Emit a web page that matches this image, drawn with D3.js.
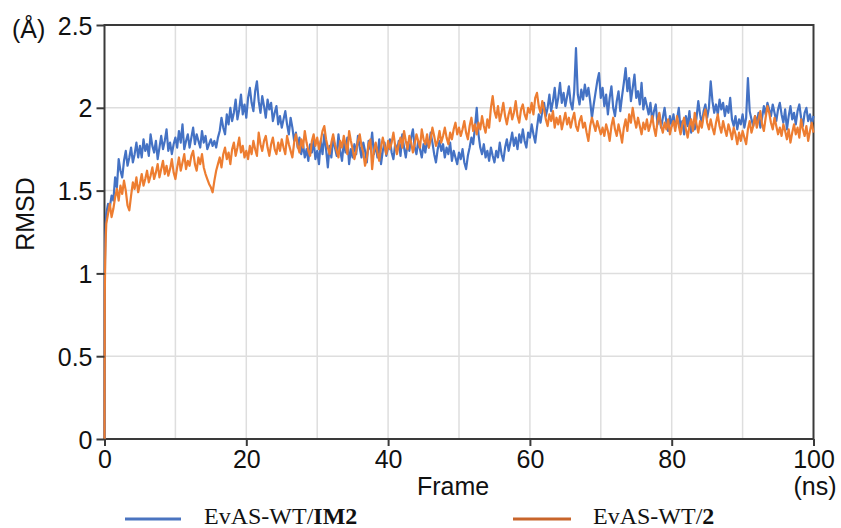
<!DOCTYPE html>
<html>
<head>
<meta charset="utf-8">
<script src="https://cdn.jsdelivr.net/npm/d3@7"></script>
<style>
  html, body { margin: 0; padding: 0; background: #fff; }
  svg { display: block; }
</style>
</head>
<body>
<svg id="chart" width="841" height="528"></svg>
<script>
// RMSD traces (Å) for two MD runs, 0–100 ns.
// Start-up segment sampled finely, then one sample every 0.25 ns.
const rampTime = [0, 0.04, 0.1, 0.18];
const rampIM2 = [0, 0.95, 1.18, 1.30];
const ramp2 = [0, 0.88, 1.08, 1.22];

const rmsdIM2 = [
  1.36, 1.42, 1.40, 1.47, 1.44, 1.58, 1.52, 1.69, 1.62, 1.58, 1.68, 1.74, 1.65, 1.70, 1.76, 1.67, 1.72, 1.79, 1.70, 1.77,
  1.70, 1.81, 1.74, 1.78, 1.71, 1.84, 1.77, 1.73, 1.80, 1.69, 1.76, 1.83, 1.75, 1.80, 1.87, 1.74, 1.79, 1.72, 1.78, 1.82,
  1.76, 1.86, 1.79, 1.90, 1.75, 1.80, 1.84, 1.76, 1.82, 1.88, 1.78, 1.84, 1.80, 1.76, 1.86, 1.79, 1.83, 1.75, 1.78, 1.81,
  1.77, 1.80, 1.76, 1.82, 1.86, 1.94, 1.88, 1.84, 1.96, 1.90, 2.00, 1.92, 1.97, 2.05, 1.93, 1.99, 2.08, 1.96, 2.02, 1.94,
  2.06, 2.12, 2.03, 1.98, 2.10, 2.16, 2.04, 1.97, 2.07, 2.01, 1.94, 2.05, 1.99, 2.03, 1.92, 1.97, 2.01, 1.90, 1.95, 1.88,
  1.93, 1.98, 1.90, 1.84, 1.94, 1.88, 1.80, 1.85, 1.76, 1.82, 1.72, 1.78, 1.70, 1.75, 1.68, 1.78, 1.73, 1.80, 1.69, 1.74,
  1.66, 1.80, 1.72, 1.84, 1.75, 1.64, 1.77, 1.70, 1.82, 1.76, 1.71, 1.84, 1.74, 1.68, 1.79, 1.73, 1.82, 1.66, 1.75, 1.70,
  1.78, 1.72, 1.83, 1.76, 1.70, 1.79, 1.74, 1.67, 1.80, 1.75, 1.85, 1.72, 1.78, 1.70, 1.81, 1.66, 1.74, 1.79, 1.71, 1.76,
  1.81, 1.73, 1.69, 1.78, 1.74, 1.80, 1.71, 1.84, 1.76, 1.70, 1.79, 1.74, 1.82, 1.87, 1.76, 1.72, 1.80, 1.75, 1.70, 1.78,
  1.73, 1.81, 1.76, 1.85, 1.79, 1.72, 1.67, 1.75, 1.80, 1.74, 1.78, 1.70, 1.76, 1.72, 1.79, 1.68, 1.74, 1.70, 1.66, 1.73,
  1.69, 1.75, 1.67, 1.63, 1.71, 1.76, 1.82, 1.78, 1.88, 2.00, 1.84, 1.76, 1.72, 1.78, 1.70, 1.74, 1.68, 1.76, 1.71, 1.67,
  1.74, 1.70, 1.79, 1.72, 1.68, 1.76, 1.81, 1.74, 1.79, 1.85, 1.77, 1.82, 1.75, 1.84, 1.79, 1.87, 1.80, 1.76, 1.85, 1.82,
  1.90, 1.84, 1.79, 1.88, 1.96, 1.91, 1.98, 2.03, 1.95, 2.00, 2.08, 1.98, 2.04, 2.12, 2.00, 2.06, 2.15, 2.03, 2.09, 2.01,
  2.07, 2.13, 2.03, 1.99, 2.10, 2.36, 2.08, 2.02, 2.11, 2.05, 2.14, 2.07, 2.12, 2.04, 1.94, 2.02, 2.09, 2.16, 2.21, 2.06,
  2.12, 2.01, 2.08, 1.96, 2.06, 2.13, 2.00, 1.95, 2.04, 2.10, 1.98, 2.07, 2.15, 2.24, 2.10, 2.18, 2.04, 2.12, 2.20, 2.06,
  2.10, 2.02, 2.15, 1.99, 2.06, 2.01, 1.96, 2.03, 1.92, 1.98, 2.02, 1.90, 1.96, 1.88, 1.94, 2.00, 1.91, 1.86, 1.95, 1.89,
  1.96, 1.88, 1.93, 2.00, 1.87, 1.92, 1.84, 1.95, 1.89, 1.98, 1.85, 1.91, 1.87, 1.94, 2.04, 1.96, 1.90, 1.98, 2.02, 1.94,
  2.00, 2.16, 2.04, 1.97, 2.02, 1.96, 2.05, 1.99, 2.03, 1.95, 2.01, 1.97, 2.06, 1.93, 1.89, 1.95, 1.87, 1.93, 1.90, 1.96,
  1.88, 1.94, 2.18, 1.98, 1.93, 1.89, 1.95, 1.91, 1.97, 1.88, 1.94, 2.01, 1.96, 2.03, 1.99, 1.95, 2.02, 1.97, 1.92, 1.99,
  2.03, 1.96, 1.91, 1.99, 1.87, 1.95, 2.01, 1.93, 1.97, 1.90, 1.98, 2.02, 1.94, 1.89, 1.97, 2.00, 1.92, 1.96, 1.90, 1.95
];

const rmsd2 = [
  1.30, 1.36, 1.42, 1.34, 1.39, 1.46, 1.51, 1.44, 1.53, 1.48, 1.56, 1.50, 1.41, 1.38, 1.47, 1.55, 1.51, 1.58, 1.49, 1.54,
  1.60, 1.53, 1.57, 1.62, 1.55, 1.59, 1.64, 1.57, 1.61, 1.66, 1.58, 1.63, 1.68, 1.60, 1.65, 1.59, 1.63, 1.69, 1.61, 1.57,
  1.64, 1.70, 1.62, 1.67, 1.72, 1.63, 1.68, 1.65, 1.71, 1.74, 1.66, 1.62, 1.70, 1.66, 1.72, 1.64, 1.60, 1.57, 1.54, 1.52,
  1.49, 1.56, 1.62, 1.66, 1.70, 1.64, 1.72, 1.76, 1.69, 1.73, 1.66, 1.75, 1.79, 1.71, 1.76, 1.82, 1.73, 1.77, 1.70, 1.74,
  1.69, 1.77, 1.72, 1.80, 1.75, 1.71, 1.85, 1.78, 1.74, 1.80, 1.83, 1.76, 1.71, 1.78, 1.82, 1.75, 1.72, 1.79, 1.74, 1.81,
  1.76, 1.72, 1.83, 1.78, 1.74, 1.70, 1.79, 1.84, 1.77, 1.73, 1.81, 1.76, 1.86, 1.79, 1.74, 1.71, 1.80, 1.84, 1.77, 1.82,
  1.75, 1.80, 1.86, 1.89, 1.81, 1.76, 1.72, 1.79, 1.84, 1.78, 1.74, 1.70, 1.80, 1.76, 1.83, 1.78, 1.72, 1.86, 1.80, 1.75,
  1.69, 1.74, 1.80, 1.84, 1.77, 1.73, 1.65, 1.70, 1.78, 1.81, 1.63, 1.74, 1.79, 1.73, 1.68, 1.76, 1.82, 1.77, 1.72, 1.80,
  1.75, 1.79, 1.85, 1.77, 1.72, 1.78, 1.82, 1.76, 1.86, 1.80, 1.75, 1.83, 1.79, 1.73, 1.78, 1.84, 1.80, 1.76, 1.87, 1.81,
  1.78, 1.84, 1.76, 1.81, 1.88, 1.83, 1.77, 1.80, 1.86, 1.79, 1.83, 1.88, 1.82, 1.78, 1.85, 1.81, 1.87, 1.91, 1.84, 1.88,
  1.83, 1.87, 1.92, 1.85, 1.81, 1.89, 1.94, 1.86, 1.90, 1.84, 1.91, 1.87, 1.95, 1.89, 1.85, 1.93, 1.88, 2.00, 2.07, 1.98,
  1.94, 2.01, 1.92, 1.97, 2.03, 1.95, 1.90, 1.96, 2.00, 1.93, 1.97, 2.04, 1.95, 1.91, 1.99, 2.02, 1.96, 1.93, 2.00, 1.97,
  2.03, 1.96, 2.06, 2.09, 2.01, 1.97, 2.04, 1.99, 1.93, 1.89, 1.96, 1.92, 1.98, 1.88, 1.94, 1.90, 1.95, 1.87, 1.92, 1.97,
  1.90, 1.94, 1.88, 1.93, 1.97, 1.89, 1.86, 1.92, 1.95, 1.88, 1.91, 1.85, 1.80, 1.89, 1.94, 1.90, 1.86, 1.92, 1.88, 1.84,
  1.88, 1.83, 1.90, 1.86, 1.80, 1.89, 1.94, 1.87, 1.83, 1.90, 1.85, 1.79, 1.88, 1.93, 1.86, 1.96, 1.91, 2.00, 1.93, 1.88,
  1.94, 1.89, 1.84, 1.91, 1.87, 1.93, 1.86, 1.90, 1.95, 1.88, 1.83, 1.92, 1.97, 1.89, 1.85, 1.91, 1.87, 1.93, 1.84, 1.89,
  1.92, 1.86, 1.95, 1.89, 1.84, 1.90, 1.94, 1.87, 1.82, 1.89, 1.93, 1.86, 1.97, 1.90, 1.85, 1.92, 1.88, 1.95, 1.99, 1.91,
  1.87, 1.93, 1.88, 1.84, 1.91, 1.96, 1.89, 1.85, 1.92, 1.87, 1.83, 1.90, 1.86, 1.81, 1.88, 1.84, 1.78, 1.85, 1.80, 1.86,
  1.82, 1.78, 1.87, 1.92, 1.85, 1.89, 1.95, 1.88, 1.93, 1.98, 1.90, 1.86, 1.94, 2.01, 1.97, 1.91, 1.87, 1.94, 1.89, 1.84,
  1.88, 1.83, 1.90, 1.86, 1.81, 1.87, 1.79, 1.85, 1.90, 1.84, 1.88, 1.82, 1.93, 1.87, 1.83, 1.89, 1.80, 1.86, 1.91, 1.85
];

const xTicks = [0, 20, 40, 60, 80, 100];
const yTicks = [0, 0.5, 1, 1.5, 2, 2.5];
const xGrid = [10, 20, 30, 40, 50, 60, 70, 80, 90];
const yGrid = [0.5, 1, 1.5, 2];

const seriesNames = ["EvAS-WT/", "EvAS-WT/"];
const seriesBold = ["IM2", "2"];
const runLength = 100;

function buildSeries(ramp, values) {
  const pts = rampTime.map((t, i) => ({ t, v: ramp[i] }));
  const dt = runLength / values.length;
  values.forEach((v, i) => pts.push({ t: (i + 1) * dt, v }));
  return pts;
}

const series = [
  { data: buildSeries(rampIM2, rmsdIM2), color: "#4472C4", legendColor: "#4A74C0" },
  { data: buildSeries(ramp2, rmsd2), color: "#ED7D31", legendColor: "#C8652B" }
];

const svg = d3.select("#chart");
const plotL = 104.5, plotR = 813.5, plotT = 25, plotB = 439;

const x = d3.scaleLinear().domain([0, 100]).range([plotL, plotR]);
const y = d3.scaleLinear().domain([0, 2.5]).range([plotB, plotT]);

const font = "Liberation Sans, Arial, sans-serif";
const axisColor = "#3a3a3a";

// grid
const grid = svg.append("g");
grid.selectAll("line.vx").data(xGrid).join("line")
  .attr("x1", d => x(d)).attr("x2", d => x(d))
  .attr("y1", plotT).attr("y2", plotB)
  .attr("stroke", "#dedede").attr("stroke-width", 1.5);
grid.selectAll("line.hy").data(yGrid).join("line")
  .attr("x1", plotL).attr("x2", plotR)
  .attr("y1", d => y(d)).attr("y2", d => y(d))
  .attr("stroke", "#dedede").attr("stroke-width", 1.5);

// frame
svg.append("rect")
  .attr("x", plotL).attr("y", plotT)
  .attr("width", plotR - plotL).attr("height", plotB - plotT)
  .attr("fill", "none").attr("stroke", axisColor).attr("stroke-width", 2);

// traces (drawn over the frame so the start-up ramp shows on the axis)
const line = d3.line().x(d => x(d.t)).y(d => y(d.v));
series.forEach(s => {
  svg.append("path").datum(s.data)
    .attr("d", line)
    .attr("fill", "none")
    .attr("stroke", s.color)
    .attr("stroke-width", 2.2)
    .attr("stroke-linejoin", "round");
});

// axes
const xAxis = d3.axisBottom(x).tickValues(xTicks).tickSize(7).tickPadding(4).tickFormat(d3.format("d"));
const yAxis = d3.axisLeft(y).tickValues(yTicks).tickSize(8).tickPadding(4).tickFormat(d => String(d));

const gx = svg.append("g").attr("transform", `translate(0,${plotB})`).call(xAxis);
const gy = svg.append("g").attr("transform", `translate(${plotL},0)`).call(yAxis);
[gx, gy].forEach(g => {
  g.select(".domain").remove();
  g.selectAll(".tick line").attr("stroke", axisColor).attr("stroke-width", 2);
  g.selectAll(".tick text").attr("fill", "#111").style("font-family", font).style("font-size", "25px");
});
gy.selectAll(".tick text").attr("dy", "0.36em");

// axis titles
svg.append("text").attr("x", 453).attr("y", 495).attr("text-anchor", "middle")
  .style("font-family", font).style("font-size", "25px").attr("fill", "#111").text("Frame");
svg.append("text").attr("x", 815).attr("y", 495).attr("text-anchor", "middle")
  .style("font-family", font).style("font-size", "25px").attr("fill", "#111").text("(ns)");
svg.append("text").attr("transform", "translate(34,214) rotate(-90)").attr("text-anchor", "middle")
  .style("font-family", font).style("font-size", "25px").attr("fill", "#111").text("RMSD");
svg.append("text").attr("x", 12).attr("y", 38)
  .style("font-family", font).style("font-size", "25px").attr("fill", "#111").text("(Å)");

// legend
const legendPos = [{ x1: 125, x2: 181, tx: 204 }, { x1: 513, x2: 571, tx: 593 }];
series.forEach((s, i) => {
  const p = legendPos[i];
  svg.append("line").attr("x1", p.x1).attr("x2", p.x2).attr("y1", 519).attr("y2", 519)
    .attr("stroke", s.legendColor).attr("stroke-width", 3);
  const t = svg.append("text").attr("x", p.tx).attr("y", 524)
    .style("font-family", "Liberation Serif, Times New Roman, serif").style("font-size", "24px").attr("fill", "#111");
  t.append("tspan").text(seriesNames[i]);
  t.append("tspan").attr("font-weight", "bold").text(seriesBold[i]);
});
</script>
</body>
</html>
